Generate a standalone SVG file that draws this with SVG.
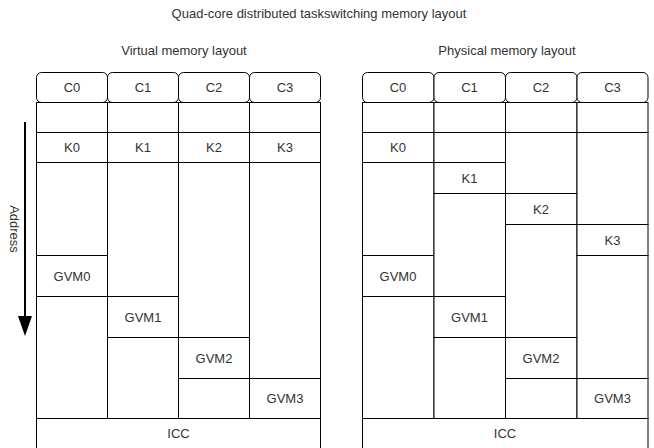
<svg xmlns="http://www.w3.org/2000/svg" width="654" height="448" viewBox="0 0 654 448">
<style>
.c{fill:#fff;stroke:#000;stroke-width:1}
.t{font-family:"Liberation Sans",Arial,sans-serif;font-size:13px;fill:#333;text-anchor:middle;dominant-baseline:central}
</style>
<rect width="654" height="448" fill="#fff"/>
<text class="t" x="319" y="13">Quad-core distributed taskswitching memory layout</text>
<text class="t" x="184" y="50">Virtual memory layout</text>
<text class="t" x="507" y="50">Physical memory layout</text>
<g id="connectors">
<line x1="25" y1="122" x2="25" y2="318" stroke="#000" stroke-width="2"/>
<path d="M18,316 L32,316 L25,336 Z" fill="#000"/>
</g>
<text class="t" transform="translate(14,229) rotate(90)">Address</text>

<!-- Virtual -->
<g id="v-c0"><rect class="c" x="36.5" y="72.5" width="71" height="30" rx="5"/><text class="t" x="72" y="87.5">C0</text></g>
<g id="v-c1"><rect class="c" x="107.5" y="72.5" width="71" height="30" rx="5"/><text class="t" x="143" y="87.5">C1</text></g>
<g id="v-c2"><rect class="c" x="178.5" y="72.5" width="71" height="30" rx="5"/><text class="t" x="214" y="87.5">C2</text></g>
<g id="v-c3"><rect class="c" x="249.5" y="72.5" width="71" height="30" rx="5"/><text class="t" x="285" y="87.5">C3</text></g>
<g id="v-r0"><rect class="c" x="36.5" y="102.5" width="71" height="30"/><rect class="c" x="107.5" y="102.5" width="71" height="30"/><rect class="c" x="178.5" y="102.5" width="71" height="30"/><rect class="c" x="249.5" y="102.5" width="71" height="30"/></g>
<g id="v-k0"><rect class="c" x="36.5" y="132.5" width="71" height="30"/><text class="t" x="72" y="147.5">K0</text></g>
<g id="v-k1"><rect class="c" x="107.5" y="132.5" width="71" height="30"/><text class="t" x="143" y="147.5">K1</text></g>
<g id="v-k2"><rect class="c" x="178.5" y="132.5" width="71" height="30"/><text class="t" x="214" y="147.5">K2</text></g>
<g id="v-k3"><rect class="c" x="249.5" y="132.5" width="71" height="30"/><text class="t" x="285" y="147.5">K3</text></g>
<g id="v-e0a"><rect class="c" x="36.5" y="162.5" width="71" height="93"/></g>
<g id="v-gvm0"><rect class="c" x="36.5" y="255.5" width="71" height="41"/><text class="t" x="72" y="276">GVM0</text></g>
<g id="v-e0b"><rect class="c" x="36.5" y="296.5" width="71" height="122"/></g>
<g id="v-e1a"><rect class="c" x="107.5" y="162.5" width="71" height="134"/></g>
<g id="v-gvm1"><rect class="c" x="107.5" y="296.5" width="71" height="41"/><text class="t" x="143" y="317">GVM1</text></g>
<g id="v-e1b"><rect class="c" x="107.5" y="337.5" width="71" height="81"/></g>
<g id="v-e2a"><rect class="c" x="178.5" y="162.5" width="71" height="175"/></g>
<g id="v-gvm2"><rect class="c" x="178.5" y="337.5" width="71" height="41"/><text class="t" x="214" y="358">GVM2</text></g>
<g id="v-e2b"><rect class="c" x="178.5" y="378.5" width="71" height="40"/></g>
<g id="v-e3a"><rect class="c" x="249.5" y="162.5" width="71" height="216"/></g>
<g id="v-gvm3"><rect class="c" x="249.5" y="378.5" width="71" height="40"/><text class="t" x="285" y="398.5">GVM3</text></g>
<g id="v-icc"><rect class="c" x="36.5" y="418.5" width="284" height="30"/><text class="t" x="178.5" y="433.5">ICC</text></g>

<!-- Physical -->
<g id="p-c0"><rect class="c" x="362.5" y="72.5" width="71.5" height="30" rx="5"/><text class="t" x="398" y="87.5">C0</text></g>
<g id="p-c1"><rect class="c" x="434" y="72.5" width="71.5" height="30" rx="5"/><text class="t" x="469.5" y="87.5">C1</text></g>
<g id="p-c2"><rect class="c" x="505.5" y="72.5" width="71.5" height="30" rx="5"/><text class="t" x="541" y="87.5">C2</text></g>
<g id="p-c3"><rect class="c" x="577" y="72.5" width="71" height="30" rx="5"/><text class="t" x="612.5" y="87.5">C3</text></g>
<g id="p-r0"><rect class="c" x="362.5" y="102.5" width="71.5" height="30"/><rect class="c" x="434" y="102.5" width="71.5" height="30"/><rect class="c" x="505.5" y="102.5" width="71.5" height="30"/><rect class="c" x="577" y="102.5" width="71" height="30"/></g>
<g id="p-k0"><rect class="c" x="362.5" y="132.5" width="71.5" height="30"/><text class="t" x="398" y="147.5">K0</text></g>
<g id="p-e0a"><rect class="c" x="362.5" y="162.5" width="71.5" height="93"/></g>
<g id="p-gvm0"><rect class="c" x="362.5" y="255.5" width="71.5" height="41"/><text class="t" x="398" y="276">GVM0</text></g>
<g id="p-e0b"><rect class="c" x="362.5" y="296.5" width="71.5" height="122"/></g>
<g id="p-e1a"><rect class="c" x="434" y="132.5" width="71.5" height="30"/></g>
<g id="p-k1"><rect class="c" x="434" y="162.5" width="71.5" height="31"/><text class="t" x="469.5" y="178">K1</text></g>
<g id="p-e1b"><rect class="c" x="434" y="193.5" width="71.5" height="103"/></g>
<g id="p-gvm1"><rect class="c" x="434" y="296.5" width="71.5" height="41"/><text class="t" x="469.5" y="317">GVM1</text></g>
<g id="p-e1c"><rect class="c" x="434" y="337.5" width="71.5" height="81"/></g>
<g id="p-e2a"><rect class="c" x="505.5" y="132.5" width="71.5" height="61"/></g>
<g id="p-k2"><rect class="c" x="505.5" y="193.5" width="71.5" height="31"/><text class="t" x="541" y="209">K2</text></g>
<g id="p-e2b"><rect class="c" x="505.5" y="224.5" width="71.5" height="113"/></g>
<g id="p-gvm2"><rect class="c" x="505.5" y="337.5" width="71.5" height="41"/><text class="t" x="541" y="358">GVM2</text></g>
<g id="p-e2c"><rect class="c" x="505.5" y="378.5" width="71.5" height="40"/></g>
<g id="p-e3a"><rect class="c" x="577" y="132.5" width="71" height="92"/></g>
<g id="p-k3"><rect class="c" x="577" y="224.5" width="71" height="31"/><text class="t" x="612.5" y="240">K3</text></g>
<g id="p-e3b"><rect class="c" x="577" y="255.5" width="71" height="123"/></g>
<g id="p-gvm3"><rect class="c" x="577" y="378.5" width="71" height="40"/><text class="t" x="612.5" y="398.5">GVM3</text></g>
<g id="p-icc"><rect class="c" x="362.5" y="418.5" width="285.5" height="30"/><text class="t" x="505" y="433.5">ICC</text></g>
</svg>
